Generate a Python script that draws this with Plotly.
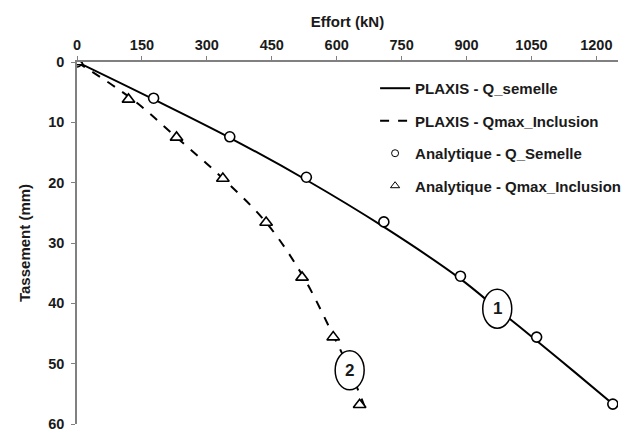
import plotly.graph_objects as go

# PLAXIS curves
plaxis_sem_x = [0, 177, 354, 531, 708, 885, 971, 1062, 1150, 1238]
plaxis_sem_y = [0, 6.2, 12.6, 19.6, 27.3, 35.9, 40.9, 46.2, 51.4, 56.7]
plaxis_inc_x = [0, 130, 230, 337, 437, 522, 594, 630, 665]
plaxis_inc_y = [0, 6.3, 12.5, 19.3, 26.6, 35.5, 45.6, 51.0, 57.2]

# Analytical points
ana_sem_x = [0, 177, 353, 530, 709, 886, 1062, 1238]
ana_sem_y = [0, 6.0, 12.4, 19.1, 26.5, 35.5, 45.6, 56.7]
ana_inc_x = [0, 119, 230, 337, 437, 520, 592, 653]
ana_inc_y = [0, 6.2, 12.5, 19.3, 26.6, 35.7, 45.6, 56.8]

x_ticks = [0, 150, 300, 450, 600, 750, 900, 1050, 1200]
y_ticks = [0, 10, 20, 30, 40, 50, 60]

series_names = ["PLAXIS - Q_semelle", "PLAXIS - Qmax_Inclusion",
                "Analytique - Q_Semelle", "Analytique - Qmax_Inclusion"]

# curve labels
label_text = ["1", "2"]
label_x = [971, 630]
label_y = [40.9, 51.1]

FONT = "Liberation Sans, Arial, sans-serif"
TXT = "#1a1a1a"

fig = go.Figure()
fig.add_trace(go.Scatter(x=plaxis_sem_x, y=plaxis_sem_y, mode="lines",
                         line=dict(color="black", width=2, shape="spline"),
                         name="<b>%s</b>" % series_names[0], legendgroup="a"))
fig.add_trace(go.Scatter(x=plaxis_inc_x, y=plaxis_inc_y, mode="lines",
                         line=dict(color="black", width=2, dash="dash", shape="spline"),
                         name="<b>%s</b>" % series_names[1], legendgroup="b"))
fig.add_trace(go.Scatter(x=ana_sem_x, y=ana_sem_y, mode="markers",
                         marker=dict(symbol="circle", size=10, color="white",
                                     line=dict(color="black", width=1.6)),
                         showlegend=False, legendgroup="c"))
fig.add_trace(go.Scatter(x=ana_inc_x, y=ana_inc_y, mode="markers",
                         marker=dict(symbol="triangle-up", size=11, color="white",
                                     line=dict(color="black", width=1.6)),
                         showlegend=False, legendgroup="d"))
# legend entries with smaller symbols, as in the reference
fig.add_trace(go.Scatter(x=[None], y=[None], mode="markers",
                         marker=dict(symbol="circle", size=7, color="white",
                                     line=dict(color="black", width=1)),
                         name="<b>%s</b>" % series_names[2], legendgroup="c"))
fig.add_trace(go.Scatter(x=[None], y=[None], mode="markers",
                         marker=dict(symbol="triangle-up", size=8, color="white",
                                     line=dict(color="black", width=1)),
                         name="<b>%s</b>" % series_names[3], legendgroup="d"))

for t, lx, ly in zip(label_text, label_x, label_y):
    fig.add_shape(type="circle", xref="x", yref="y", xsizemode="pixel", ysizemode="pixel",
                  xanchor=lx, yanchor=ly, x0=-14.5, x1=14.5, y0=-19.5, y1=19.5,
                  fillcolor="white", line=dict(color="black", width=1.5), layer="above")
    fig.add_annotation(x=lx, y=ly, text="<b>" + t + "</b>", showarrow=False,
                       font=dict(family=FONT, size=17, color=TXT))

fig.update_layout(
    width=635, height=432,
    margin=dict(l=77, r=17, t=62, b=8),
    plot_bgcolor="white", paper_bgcolor="white",
    font=dict(family=FONT, size=15, color=TXT),
    showlegend=True,
    legend=dict(x=0.551, y=0.9725, xanchor="left", yanchor="top",
                bgcolor="rgba(0,0,0,0)", tracegroupgap=10,
                font=dict(family=FONT, size=15, color=TXT)),
)
fig.update_xaxes(side="top", range=[0, 1250], tickvals=x_ticks,
                 ticktext=["<b>%d</b>" % v for v in x_ticks],
                 tickfont=dict(size=14.5), automargin=False,
                 showline=True, linecolor="#808080", linewidth=1.5,
                 ticks="outside", ticklen=4, tickcolor="#808080", tickwidth=1,
                 ticklabeloverflow="allow",
                 showgrid=False, zeroline=False,
                 title=dict(text="<b>Effort (kN)</b>", font=dict(size=15), standoff=6))
fig.update_yaxes(range=[60, 0], tickvals=y_ticks,
                 ticktext=["<b>%d</b>" % v for v in y_ticks],
                 tickfont=dict(size=14.5), automargin=False,
                 showline=True, linecolor="#808080", linewidth=1.5,
                 ticks="outside", ticklen=4, tickcolor="#808080", tickwidth=1,
                 ticklabeloverflow="allow", ticklabelstandoff=4,
                 showgrid=False, zeroline=False,
                 title=dict(text="<b>Tassement (mm)</b>", font=dict(size=15), standoff=14))

fig.write_html("out.html")
